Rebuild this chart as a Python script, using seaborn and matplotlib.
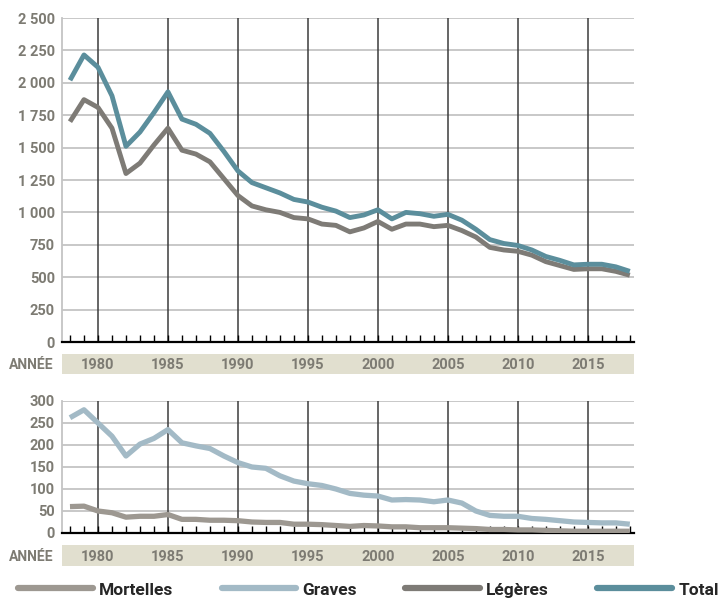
import numpy as np
import pandas as pd
import matplotlib
matplotlib.use("Agg")
import matplotlib.pyplot as plt
from matplotlib.ticker import FixedLocator, MultipleLocator, FuncFormatter
from matplotlib.lines import Line2D
import seaborn as sns

years = list(range(1978, 2019))
total = [2020, 2215, 2120, 1900, 1510, 1620, 1770, 1930, 1720, 1680, 1610, 1470, 1320, 1230,
         1190, 1150, 1100, 1080, 1040, 1010, 960, 980, 1020, 950, 1000, 990, 970, 985, 940,
         870, 790, 760, 745, 710, 660, 630, 595, 600, 600, 580, 545]
legeres = [1700, 1870, 1810, 1650, 1300, 1380, 1520, 1650, 1480, 1450, 1390, 1260, 1130, 1050,
           1020, 1000, 960, 950, 910, 900, 850, 880, 930, 870, 910, 910, 890, 900, 860,
           810, 730, 710, 700, 670, 620, 590, 560, 565, 565, 545, 515]
graves = [262, 280, 250, 220, 175, 202, 215, 235, 205, 198, 192, 175, 160, 150, 147, 130, 118,
          112, 108, 100, 90, 86, 84, 75, 76, 75, 71, 75, 68, 50, 40, 38, 38, 33, 31, 28, 25,
          24, 23, 23, 20]
mortelles = [60, 61, 50, 46, 36, 38, 38, 42, 31, 31, 29, 29, 28, 25, 24, 24, 20, 20, 19, 17,
             15, 17, 16, 14, 14, 12, 12, 12, 11, 10, 8, 8, 7, 7, 6, 5, 4, 4, 4, 4, 4]
year_labels = [1980, 1985, 1990, 1995, 2000, 2005, 2010, 2015]
top_ticks = list(range(0, 2501, 250))
bot_ticks = list(range(0, 301, 50))

sns.set_theme(style="white")
plt.rcParams['font.family'] = ['Roboto', 'DejaVu Sans']

c_total = "#5b8e9c"
c_leg = "#7e7b76"
c_grav = "#a3bac6"
c_mort = "#9d9891"
c_tick = "#7d7b73"
c_band = "#e1dfcf"
c_vgrid = "#3c3c3c"
c_hgrid = "#c4c4c4"

df_top = pd.DataFrame({"Année": years * 2,
                       "Valeur": legeres + total,
                       "Série": ["Légères"] * len(years) + ["Total"] * len(years)})
df_bot = pd.DataFrame({"Année": years * 2,
                       "Valeur": mortelles + graves,
                       "Série": ["Mortelles"] * len(years) + ["Graves"] * len(years)})

fig = plt.figure(figsize=(7.2, 5.99), dpi=100)
L, W = 62 / 720, 572 / 720
H = 599
ax1 = fig.add_axes([L, 1 - 342 / H, W, 324 / H])
ax2 = fig.add_axes([L, 1 - 533 / H, W, 132 / H])
band1 = fig.add_axes([L, 1 - 374 / H, W, 20 / H])
band2 = fig.add_axes([L, 1 - 566 / H, W, 21 / H])

xlim = (1977.43, 2018.3)
fmt = FuncFormatter(lambda v, p: f"{int(v):,}".replace(",", " "))
TS = 10.5

def style_axes(ax, ticks):
    ax.set_xlim(*xlim)
    ax.set_ylim(ticks[0], ticks[-1])
    ax.yaxis.set_major_locator(FixedLocator(ticks))
    ax.yaxis.set_major_formatter(fmt)
    ax.xaxis.set_major_locator(FixedLocator(year_labels))
    ax.xaxis.set_minor_locator(MultipleLocator(1))
    ax.set_xticklabels([])
    ax.grid(False)
    for t in ticks[1:]:
        ax.axhline(t, color=c_hgrid, lw=1.3, zorder=0)
    for y in year_labels:
        ax.axvline(y, color=c_vgrid, lw=1.1, zorder=0.5)
    ax.tick_params(axis='x', which='both', direction='in', length=5, width=1, color='black',
                   bottom=True, labelbottom=False)
    ax.tick_params(axis='y', length=0, pad=5, labelsize=TS, labelcolor=c_tick)
    for lab in ax.get_yticklabels():
        lab.set_fontweight('bold')
    for s in ['top', 'right']:
        ax.spines[s].set_visible(False)
    ax.spines['left'].set_color(c_hgrid)
    ax.spines['left'].set_linewidth(1.3)
    ax.spines['bottom'].set_color('black')
    ax.spines['bottom'].set_linewidth(1.6)
    ax.set_xlabel("")
    ax.set_ylabel("")

sns.lineplot(data=df_top, x="Année", y="Valeur", hue="Série",
             palette={"Légères": c_leg, "Total": c_total}, linewidth=3.5,
             legend=False, ax=ax1, zorder=3)
sns.lineplot(data=df_bot, x="Année", y="Valeur", hue="Série",
             palette={"Mortelles": c_mort, "Graves": c_grav}, linewidth=3.8,
             legend=False, ax=ax2, zorder=3)
style_axes(ax1, top_ticks)
style_axes(ax2, bot_ticks)
for ln in ax1.lines + ax2.lines:
    ln.set_solid_capstyle('butt')

for b in (band1, band2):
    b.set_xlim(*xlim)
    b.set_ylim(0, 1)
    b.set_facecolor(c_band)
    for s in b.spines.values():
        s.set_visible(False)
    b.set_xticks([])
    b.set_yticks([])
    for y in year_labels:
        b.text(y, 0.45, str(y), ha='center', va='center', fontsize=TS,
               fontweight='bold', color=c_tick)
    b.text(-0.015, 0.45, "ANNÉE", transform=b.transAxes, ha='right', va='center',
           fontsize=TS - 0.5, fontweight='bold', color=c_tick)

handles = [Line2D([], [], color=c_mort, lw=4.5),
           Line2D([], [], color=c_grav, lw=4.5),
           Line2D([], [], color=c_leg, lw=4.5),
           Line2D([], [], color=c_total, lw=4.5)]
fig.legend(handles, ["Mortelles", "Graves", "Légères", "Total"], loc='center left',
           bbox_to_anchor=(0.008, 1 - 590 / H), ncol=4, frameon=False, handlelength=4.3,
           handletextpad=0.35, columnspacing=2.8, borderpad=0.2,
           prop={'weight': 'bold', 'size': 12.5})

fig.savefig("out.png", dpi=100)
